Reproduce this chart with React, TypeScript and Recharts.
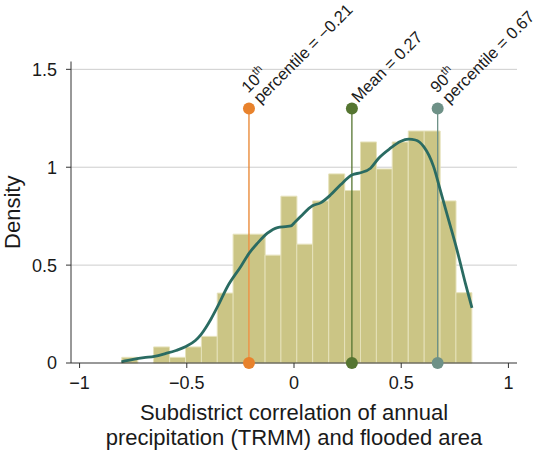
import React from 'react';
import { ComposedChart, Bar, Line, XAxis, YAxis, CartesianGrid, Label } from 'recharts';

// histogram bins (centre of each bin) and their densities
const binCenters = [
  -0.766, -0.692, -0.618, -0.543, -0.469, -0.395, -0.321, -0.247, -0.172, -0.098, -0.024,
  0.05, 0.124, 0.199, 0.273, 0.347, 0.421, 0.495, 0.57, 0.644, 0.718, 0.792,
];
const binDensity = [
  0.029, 0, 0.082, 0.029, 0.082, 0.136, 0.357, 0.658, 0.658, 0.551, 0.852,
  0.607, 0.828, 0.966, 0.881, 1.129, 0.991, 1.129, 1.185, 1.185, 0.828, 0.359,
];

// kernel density curve
const kdeX = [
  -0.805, -0.75, -0.7, -0.651, -0.6, -0.55, -0.504, -0.46, -0.434, -0.41, -0.387, -0.356, -0.31,
  -0.248, -0.209, -0.17, -0.124, -0.077, -0.039, -0.015, 0.005, 0.031, 0.086, 0.124, 0.171,
  0.217, 0.272, 0.31, 0.357, 0.395, 0.45, 0.496, 0.535, 0.566, 0.605, 0.651, 0.682, 0.721,
  0.76, 0.799, 0.83,
];
const kdeY = [
  0.006, 0.018, 0.027, 0.034, 0.048, 0.064, 0.084, 0.115, 0.145, 0.183, 0.225, 0.289, 0.391,
  0.493, 0.561, 0.612, 0.663, 0.692, 0.697, 0.7, 0.72, 0.748, 0.803, 0.818, 0.859,
  0.91, 0.961, 0.972, 0.995, 1.046, 1.097, 1.131, 1.143, 1.139, 1.105, 1.003, 0.884, 0.731,
  0.578, 0.408, 0.281,
];

// summary markers
const markerValues = [-0.21, 0.27, 0.67];
const markerTop = 1.3;
const markerColors = ['#e8822c', '#557531', '#6e9187'];
const markerLabels = [
  ['10|th', 'percentile = \u22120.21'],
  ['Mean = 0.27'],
  ['90|th', 'percentile = 0.67'],
];

const xTicks = [-1, -0.5, 0, 0.5, 1];
const yTicks = [0, 0.5, 1, 1.5];
const gridValues = [0.5, 1, 1.5];
const xDomain: [number, number] = [-1.04, 1.04];
const yDomain: [number, number] = [0, 1.54];

const CHART_W = 537;
const CHART_H = 451;
const margin = { top: 61.5, right: 20, bottom: 48, left: 0 };

const barData = binCenters.map((x, i) => ({ x, d: binDensity[i] }));
const kdeData = kdeX.map((x, i) => ({ x, y: kdeY[i] }));
const markerData = markerValues.map((v) => [
  { x: v, y: 0 },
  { x: v, y: markerTop },
]);

const fmt = (v: number) => (v < 0 ? '\u2212' + Math.abs(v) : String(v));

const renderLine = (line: string, i: number, dy: number, x: number) => {
  const [main, sup] = line.split('|');
  return (
    <tspan key={i} x={x} y={dy}>
      {main}
      {sup && (
        <tspan fontSize={11} dy={-7}>
          {sup}
        </tspan>
      )}
    </tspan>
  );
};

const MarkerDot = (props: any) => {
  const { cx, cy, payload, color, lines } = props;
  if (cx == null || cy == null) return null;
  const twoLines = lines.length > 1;
  return (
    <g>
      <circle cx={cx} cy={cy} r={6} fill={color} />
      {payload.y > 0 && (
        <text transform={`translate(${cx} ${cy}) rotate(-45)`} fontSize={16.5} fill="#1a1a1a">
          {twoLines
            ? lines.map((l: string, i: number) => renderLine(l, i, i === 0 ? -11 : 5, i === 0 ? 10 : 11))
            : renderLine(lines[0], 0, 1, 8)}
        </text>
      )}
    </g>
  );
};

export default function App() {
  return (
    <div style={{ position: 'absolute', left: 0, top: 0, fontFamily: '"Liberation Sans", Arial, sans-serif' }}>
      <ComposedChart width={CHART_W} height={CHART_H} data={barData} margin={margin} barCategoryGap={0} barGap={0}>
        <CartesianGrid vertical={false} stroke="#cdcdcd" horizontalValues={gridValues} />
        <XAxis
          type="number"
          dataKey="x"
          domain={xDomain}
          ticks={xTicks}
          tickFormatter={fmt}
          height={40}
          tickSize={5}
          tickMargin={8}
          stroke="#333"
          tick={{ fill: '#1a1a1a', fontSize: 18 }}
        >
          <Label
            content={({ viewBox }: any) => {
              const cx = viewBox.x + viewBox.width / 2;
              return (
                <text textAnchor="middle" fontSize={22} fill="#1a1a1a">
                  <tspan x={cx} y={viewBox.y + 57}>Subdistrict correlation of annual</tspan>
                  <tspan x={cx} y={viewBox.y + 82}>precipitation (TRMM) and flooded area</tspan>
                </text>
              );
            }}
          />
        </XAxis>
        <XAxis xAxisId="bins" type="number" dataKey="x" domain={xDomain} hide />
        <YAxis
          type="number"
          domain={yDomain}
          ticks={yTicks}
          width={71}
          tickSize={5}
          tickMargin={9}
          stroke="#333"
          tick={{ fill: '#1a1a1a', fontSize: 18 }}
        >
          <Label
            content={({ viewBox }: any) => {
              const x = 12;
              const y = viewBox.y + viewBox.height / 2;
              return (
                <text
                  x={x}
                  y={y}
                  transform={`rotate(-90 ${x} ${y})`}
                  textAnchor="middle"
                  dominantBaseline="central"
                  fontSize={22}
                  fill="#1a1a1a"
                >
                  Density
                </text>
              );
            }}
          />
        </YAxis>
        <Bar
          xAxisId="bins"
          dataKey="d"
          fill="#cbc585"
          stroke="#e6e2bb"
          strokeWidth={1}
          isAnimationActive={false}
        />
        {markerData.map((d, i) => (
          <Line
            key={i}
            data={d}
            dataKey="y"
            stroke={markerColors[i]}
            strokeWidth={1.3}
            activeDot={false}
            isAnimationActive={false}
            dot={(p: any) => (
              <MarkerDot key={p.index} {...p} color={markerColors[i]} lines={markerLabels[i]} />
            )}
          />
        ))}
        <Line
          data={kdeData}
          dataKey="y"
          type="monotone"
          stroke="#2a6b62"
          strokeWidth={2.8}
          dot={false}
          activeDot={false}
          isAnimationActive={false}
        />
      </ComposedChart>
    </div>
  );
}
